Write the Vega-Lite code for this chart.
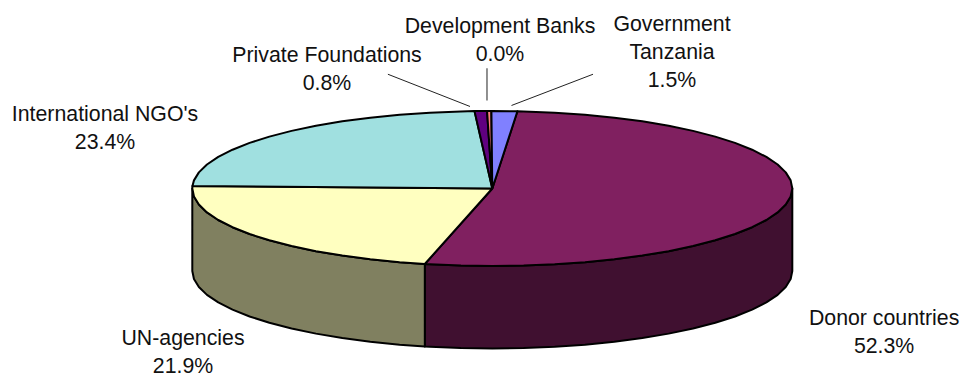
{
 "$schema":"https://vega.github.io/schema/vega-lite/v6.json",
 "width":961,"height":374,"padding":0,"autosize":{"type":"none"},
 "background":"white",
 "config":{"view":{"stroke":null}},
 "datasets":{
  "walls":[
   {"part":"Donor side","x":1,"y":0,"y2":-1.064},{"part":"Donor side","x":0.9945,"y":-0.1045,"y2":-1.1685},{"part":"Donor side","x":0.9781,"y":-0.2079,"y2":-1.2719},{"part":"Donor side","x":0.9511,"y":-0.309,"y2":-1.373},{"part":"Donor side","x":0.9135,"y":-0.4067,"y2":-1.4707},{"part":"Donor side","x":0.866,"y":-0.5,"y2":-1.564},{"part":"Donor side","x":0.809,"y":-0.5878,"y2":-1.6518},{"part":"Donor side","x":0.7431,"y":-0.6691,"y2":-1.7331},{"part":"Donor side","x":0.6691,"y":-0.7431,"y2":-1.8071},{"part":"Donor side","x":0.5878,"y":-0.809,"y2":-1.873},{"part":"Donor side","x":0.5,"y":-0.866,"y2":-1.93},{"part":"Donor side","x":0.4067,"y":-0.9135,"y2":-1.9775},{"part":"Donor side","x":0.309,"y":-0.9511,"y2":-2.0151},{"part":"Donor side","x":0.2079,"y":-0.9781,"y2":-2.0421},{"part":"Donor side","x":0.1045,"y":-0.9945,"y2":-2.0585},{"part":"Donor side","x":0,"y":-1,"y2":-2.064},{"part":"Donor side","x":-0.1045,"y":-0.9945,"y2":-2.0585},{"part":"Donor side","x":-0.2079,"y":-0.9781,"y2":-2.0421},{"part":"Donor side","x":-0.225,"y":-0.9744,"y2":-2.0384},
   {"part":"UN side","x":-0.225,"y":-0.9744,"y2":-2.0384},{"part":"UN side","x":-0.309,"y":-0.9511,"y2":-2.0151},{"part":"UN side","x":-0.4067,"y":-0.9135,"y2":-1.9775},{"part":"UN side","x":-0.5,"y":-0.866,"y2":-1.93},{"part":"UN side","x":-0.5878,"y":-0.809,"y2":-1.873},{"part":"UN side","x":-0.6691,"y":-0.7431,"y2":-1.8071},{"part":"UN side","x":-0.7431,"y":-0.6691,"y2":-1.7331},{"part":"UN side","x":-0.809,"y":-0.5878,"y2":-1.6518},{"part":"UN side","x":-0.866,"y":-0.5,"y2":-1.564},{"part":"UN side","x":-0.9135,"y":-0.4067,"y2":-1.4707},{"part":"UN side","x":-0.9511,"y":-0.309,"y2":-1.373},{"part":"UN side","x":-0.9781,"y":-0.2079,"y2":-1.2719},{"part":"UN side","x":-0.9945,"y":-0.1045,"y2":-1.1685},{"part":"UN side","x":-1,"y":0,"y2":-1.064}
  ],
  "faces":[
   {"part":"Donor countries","i":0,"x":0,"y":0},{"part":"Donor countries","i":1,"x":0.0837,"y":0.9965},{"part":"Donor countries","i":2,"x":0.1045,"y":0.9945},{"part":"Donor countries","i":3,"x":0.2079,"y":0.9781},{"part":"Donor countries","i":4,"x":0.309,"y":0.9511},{"part":"Donor countries","i":5,"x":0.4067,"y":0.9135},{"part":"Donor countries","i":6,"x":0.5,"y":0.866},{"part":"Donor countries","i":7,"x":0.5878,"y":0.809},{"part":"Donor countries","i":8,"x":0.6691,"y":0.7431},{"part":"Donor countries","i":9,"x":0.7431,"y":0.6691},{"part":"Donor countries","i":10,"x":0.809,"y":0.5878},{"part":"Donor countries","i":11,"x":0.866,"y":0.5},{"part":"Donor countries","i":12,"x":0.9135,"y":0.4067},{"part":"Donor countries","i":13,"x":0.9511,"y":0.309},{"part":"Donor countries","i":14,"x":0.9781,"y":0.2079},{"part":"Donor countries","i":15,"x":0.9945,"y":0.1045},{"part":"Donor countries","i":16,"x":1,"y":0},{"part":"Donor countries","i":17,"x":0.9945,"y":-0.1045},{"part":"Donor countries","i":18,"x":0.9781,"y":-0.2079},{"part":"Donor countries","i":19,"x":0.9511,"y":-0.309},{"part":"Donor countries","i":20,"x":0.9135,"y":-0.4067},{"part":"Donor countries","i":21,"x":0.866,"y":-0.5},{"part":"Donor countries","i":22,"x":0.809,"y":-0.5878},{"part":"Donor countries","i":23,"x":0.7431,"y":-0.6691},{"part":"Donor countries","i":24,"x":0.6691,"y":-0.7431},{"part":"Donor countries","i":25,"x":0.5878,"y":-0.809},{"part":"Donor countries","i":26,"x":0.5,"y":-0.866},{"part":"Donor countries","i":27,"x":0.4067,"y":-0.9135},{"part":"Donor countries","i":28,"x":0.309,"y":-0.9511},{"part":"Donor countries","i":29,"x":0.2079,"y":-0.9781},{"part":"Donor countries","i":30,"x":0.1045,"y":-0.9945},{"part":"Donor countries","i":31,"x":0,"y":-1},{"part":"Donor countries","i":32,"x":-0.1045,"y":-0.9945},{"part":"Donor countries","i":33,"x":-0.2079,"y":-0.9781},{"part":"Donor countries","i":34,"x":-0.225,"y":-0.9744},{"part":"Donor countries","i":35,"x":0,"y":0},
   {"part":"UN-agencies","i":0,"x":0,"y":0},{"part":"UN-agencies","i":1,"x":-0.225,"y":-0.9744},{"part":"UN-agencies","i":2,"x":-0.309,"y":-0.9511},{"part":"UN-agencies","i":3,"x":-0.4067,"y":-0.9135},{"part":"UN-agencies","i":4,"x":-0.5,"y":-0.866},{"part":"UN-agencies","i":5,"x":-0.5878,"y":-0.809},{"part":"UN-agencies","i":6,"x":-0.6691,"y":-0.7431},{"part":"UN-agencies","i":7,"x":-0.7431,"y":-0.6691},{"part":"UN-agencies","i":8,"x":-0.809,"y":-0.5878},{"part":"UN-agencies","i":9,"x":-0.866,"y":-0.5},{"part":"UN-agencies","i":10,"x":-0.9135,"y":-0.4067},{"part":"UN-agencies","i":11,"x":-0.9511,"y":-0.309},{"part":"UN-agencies","i":12,"x":-0.9781,"y":-0.2079},{"part":"UN-agencies","i":13,"x":-0.9945,"y":-0.1045},{"part":"UN-agencies","i":14,"x":-1,"y":0},{"part":"UN-agencies","i":15,"x":-0.9995,"y":0.0314},{"part":"UN-agencies","i":16,"x":0,"y":0},
   {"part":"International NGO's","i":0,"x":0,"y":0},{"part":"International NGO's","i":1,"x":-0.9995,"y":0.0314},{"part":"International NGO's","i":2,"x":-0.9945,"y":0.1045},{"part":"International NGO's","i":3,"x":-0.9781,"y":0.2079},{"part":"International NGO's","i":4,"x":-0.9511,"y":0.309},{"part":"International NGO's","i":5,"x":-0.9135,"y":0.4067},{"part":"International NGO's","i":6,"x":-0.866,"y":0.5},{"part":"International NGO's","i":7,"x":-0.809,"y":0.5878},{"part":"International NGO's","i":8,"x":-0.7431,"y":0.6691},{"part":"International NGO's","i":9,"x":-0.6691,"y":0.7431},{"part":"International NGO's","i":10,"x":-0.5878,"y":0.809},{"part":"International NGO's","i":11,"x":-0.5,"y":0.866},{"part":"International NGO's","i":12,"x":-0.4067,"y":0.9135},{"part":"International NGO's","i":13,"x":-0.309,"y":0.9511},{"part":"International NGO's","i":14,"x":-0.2079,"y":0.9781},{"part":"International NGO's","i":15,"x":-0.1045,"y":0.9945},{"part":"International NGO's","i":16,"x":-0.0593,"y":0.9982},{"part":"International NGO's","i":17,"x":0,"y":0},
   {"part":"Private Foundations","i":0,"x":0,"y":0},{"part":"Private Foundations","i":1,"x":-0.0593,"y":0.9982},{"part":"Private Foundations","i":2,"x":-0.0175,"y":0.9998},{"part":"Private Foundations","i":3,"x":0,"y":0},
   {"part":"Development Banks","i":0,"x":0,"y":0},{"part":"Development Banks","i":1,"x":-0.0175,"y":0.9998},{"part":"Development Banks","i":2,"x":-0.003,"y":1},{"part":"Development Banks","i":3,"x":0,"y":0},
   {"part":"Government Tanzania","i":0,"x":0,"y":0},{"part":"Government Tanzania","i":1,"x":-0.003,"y":1},{"part":"Government Tanzania","i":2,"x":0,"y":1},{"part":"Government Tanzania","i":3,"x":0.0837,"y":0.9965},{"part":"Government Tanzania","i":4,"x":0,"y":0}
  ],
  "leaders":[
   {"to":"Private Foundations","i":0,"x":-0.348,"y":1.474},{"to":"Private Foundations","i":1,"x":-0.0743,"y":1.058},
   {"to":"Development Banks","i":0,"x":-0.0177,"y":1.551},{"to":"Development Banks","i":1,"x":-0.0177,"y":1.135},
   {"to":"Government Tanzania","i":0,"x":0.3357,"y":1.474},{"to":"Government Tanzania","i":1,"x":0.064,"y":1.071}
  ],
  "labels":[
   {"text":"Development Banks\n0.0%","x":0.0257,"y":2.0},
   {"text":"Government\nTanzania\n1.5%","x":0.599,"y":2.032},
   {"text":"Private Foundations\n0.8%","x":-0.551,"y":1.634},
   {"text":"International NGO's\n23.4%","x":-1.291,"y":0.872},
   {"text":"Donor countries\n52.3%","x":1.306,"y":-1.757},
   {"text":"UN-agencies\n21.9%","x":-1.031,"y":-2.02}
  ]
 },
 "layer":[
  {"data":{"name":"walls"},
   "mark":{"type":"area","stroke":"black","strokeWidth":2,"strokeJoin":"round","opacity":1},
   "encoding":{
    "x":{"field":"x","type":"quantitative","scale":{"domain":[-1.641,1.5623],"nice":false,"zero":false},"axis":null},
    "y":{"field":"y","type":"quantitative","scale":{"domain":[-2.394,2.432],"nice":false,"zero":false},"axis":null},
    "y2":{"field":"y2"},
    "fill":{"field":"part","type":"nominal","legend":null,
     "scale":{"domain":["Donor side","UN side","Donor countries","UN-agencies","International NGO's","Private Foundations","Development Banks","Government Tanzania"],
              "range":["#401030","#808060","#802060","#ffffc0","#a0e0e0","#600080","#ff8080","#8080ff"]}},
    "detail":{"field":"part"}}},
  {"data":{"name":"faces"},
   "mark":{"type":"line","stroke":"black","strokeWidth":2,"strokeJoin":"round"},
   "encoding":{
    "x":{"field":"x","type":"quantitative"},
    "y":{"field":"y","type":"quantitative"},
    "fill":{"field":"part","type":"nominal","legend":null},
    "detail":{"field":"part"},
    "order":{"field":"i"}}},
  {"data":{"name":"leaders"},
   "mark":{"type":"line","stroke":"#222222","strokeWidth":1},
   "encoding":{
    "x":{"field":"x","type":"quantitative"},
    "y":{"field":"y","type":"quantitative"},
    "detail":{"field":"to"},
    "order":{"field":"i"}}},
  {"data":{"name":"labels"},
   "mark":{"type":"text","font":"Liberation Sans","fontSize":21.3,"lineBreak":"\n","lineHeight":28,"align":"center","baseline":"alphabetic","color":"#111111"},
   "encoding":{
    "x":{"field":"x","type":"quantitative"},
    "y":{"field":"y","type":"quantitative"},
    "text":{"field":"text"}}}
 ]
}
